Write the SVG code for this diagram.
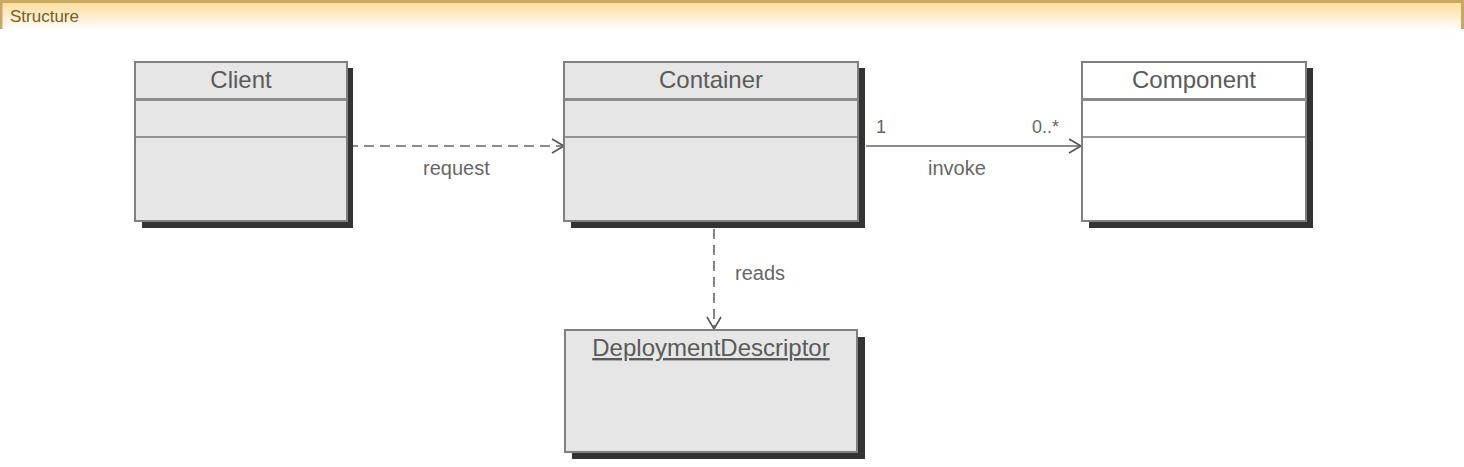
<svg xmlns="http://www.w3.org/2000/svg" width="1464" height="467" viewBox="0 0 1464 467">
<defs>
<linearGradient id="hdr" x1="0" y1="0" x2="0" y2="1">
<stop offset="0" stop-color="#fddc98"/>
<stop offset="1" stop-color="#ffffff"/>
</linearGradient>
<marker id="open" markerWidth="16" markerHeight="16" refX="14" refY="8" orient="auto" markerUnits="userSpaceOnUse">
<path d="M2,1 L14,8 L2,15" fill="none" stroke="#555" stroke-width="1.6"/>
</marker>
<style>
.shadow{fill:#333}
.box{fill:#e6e6e6;stroke:#808080;stroke-width:2}
.wbox{fill:#ffffff;stroke:#808080;stroke-width:2}
.div1{stroke:#8a8a8a;stroke-width:3}
.div2{stroke:#777;stroke-width:1.6}
.title{font-family:"Liberation Sans",Arial,sans-serif;font-size:24px;fill:#5a5a5a;text-anchor:middle}
.lbl{font-family:"Liberation Sans",Arial,sans-serif;font-size:20px;fill:#666}
.mult{font-family:"Liberation Sans",Arial,sans-serif;font-size:18px;fill:#666}
.conn{fill:none;stroke:#666;stroke-width:1.6}
.dash{stroke-dasharray:10,6}
</style>
</defs>
<g id="header">
<rect x="0" y="2" width="1464" height="28" fill="url(#hdr)"/>
<rect x="0" y="0" width="1464" height="3" fill="#c8a862"/>
<rect x="0" y="0" width="2.5" height="29" fill="#c8a862"/>
<rect x="1461" y="0" width="3" height="29" fill="#c8a862"/>
<text x="10" y="22" font-family="'Liberation Sans',Arial,sans-serif" font-size="17" fill="#7a5c22">Structure</text>
</g>
<g id="connectors">
<line class="conn dash" x1="348" y1="146" x2="564" y2="146" marker-end="url(#open)"/>
<text class="lbl" x="423" y="175">request</text>
<line class="conn" x1="866" y1="146" x2="1081" y2="146" marker-end="url(#open)"/>
<text class="lbl" x="928" y="175">invoke</text>
<text class="mult" x="876" y="133">1</text>
<text class="mult" x="1032" y="133">0..*</text>
<line class="conn dash" x1="714" y1="229" x2="714" y2="329" marker-end="url(#open)"/>
<text class="lbl" x="735" y="280">reads</text>
</g>
<g id="client">
<rect class="shadow" x="142" y="68" width="211" height="160"/>
<rect class="box" x="135" y="62" width="212" height="159"/>
<line class="div1" x1="135" y1="99.5" x2="347" y2="99.5"/>
<line class="div2" x1="135" y1="137" x2="347" y2="137"/>
<text class="title" x="241" y="88">Client</text>
</g>
<g id="container">
<rect class="shadow" x="571" y="68" width="294" height="160"/>
<rect class="box" x="564" y="62" width="294" height="159"/>
<line class="div1" x1="564" y1="99.5" x2="858" y2="99.5"/>
<line class="div2" x1="564" y1="137" x2="858" y2="137"/>
<text class="title" x="711" y="88">Container</text>
</g>
<g id="component">
<rect class="shadow" x="1089" y="68" width="224" height="160"/>
<rect class="wbox" x="1082" y="62" width="224" height="159"/>
<line class="div1" x1="1082" y1="99.5" x2="1306" y2="99.5"/>
<line class="div2" x1="1082" y1="137" x2="1306" y2="137"/>
<text class="title" x="1194" y="88">Component</text>
</g>
<g id="deploymentdescriptor">
<rect class="shadow" x="572" y="337" width="293" height="122"/>
<rect class="box" x="565" y="330" width="292" height="122"/>
<text class="title" x="711" y="356" text-decoration="underline">DeploymentDescriptor</text>
</g>
</svg>
